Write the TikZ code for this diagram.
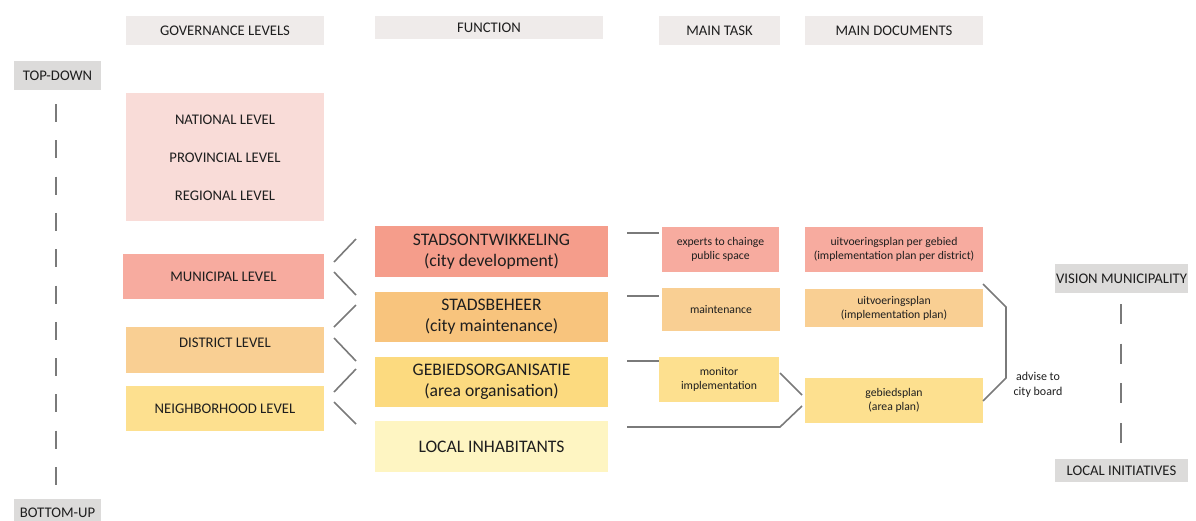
\documentclass[tikz,border=0pt]{standalone}
\usepackage{fontspec}
\setmainfont{Carlito}
\usetikzlibrary{calc}

\definecolor{ink}{HTML}{1E1E1E}
\definecolor{wire}{HTML}{7A7A7A}
\definecolor{hdrbg}{HTML}{EFEBEA}
\definecolor{sidebg}{HTML}{DCDBDA}
\definecolor{upperbg}{HTML}{F9DCD8}
\definecolor{munbg}{HTML}{F7AB9F}
\definecolor{devbg}{HTML}{F59D8B}
\definecolor{distbg}{HTML}{F9CF93}
\definecolor{maintbg}{HTML}{F8C47D}
\definecolor{neighbg}{HTML}{FDE08F}
\definecolor{areabg}{HTML}{FCDA7F}
\definecolor{localbg}{HTML}{FEF5C2}

\begin{document}
\begin{tikzpicture}[x=1pt,y=-1pt,
  every node/.style={text=ink},
  sz/.style 2 args={minimum width=#1pt, minimum height=#2pt},
  box/.style={inner sep=0pt, outer sep=0pt, anchor=north west, align=center},
  hdr/.style={box, fill=hdrbg, font=\fontsize{14.7}{17}\selectfont},
  side/.style={box, fill=sidebg, font=\fontsize{14.7}{17}\selectfont},
  lvl/.style={box, font=\fontsize{14.7}{17}\selectfont},
  lbl/.style={inner sep=0pt, font=\fontsize{14.7}{17}\selectfont},
  func/.style={box, font=\fontsize{17.6}{21}\selectfont},
  small/.style={box, font=\fontsize{11.7}{14}\selectfont},
  conn/.style={draw=wire, line width=1.6pt},
  dashline/.style={draw=wire, line width=1.6pt, dash pattern=on 18pt off 18.3pt}
]
\useasboundingbox (0,0) rectangle (1196,520);

% column headers
\node[hdr, sz={198}{29}] (hgov) at (126,16) {GOVERNANCE LEVELS};
\node[hdr, sz={228}{23}] (hfun) at (375,16) {FUNCTION};
\node[hdr, sz={121}{29}] (htask) at (659,16) {MAIN TASK};
\node[hdr, sz={178}{29}] (hdoc) at (805,16) {MAIN DOCUMENTS};

% vertical axis on the left
\node[side, sz={87}{29}] (top) at (14,61) {TOP-DOWN};
\node[side, sz={87}{36}] (bottom) at (14,499) {};
\node[inner sep=0pt, anchor=base, font=\fontsize{14.7}{17}\selectfont] (bottomt) at (57.5,517.5) {BOTTOM-UP};
\draw[dashline] ($(top.south)+(-1.5,14)$) -- ($(bottom.north)+(-1.5,-11)$);

% governance levels
\node[lvl, fill=upperbg, sz={198}{128}] (upper) at (126,93) {};
\node[lbl] (nat) at (225,120) {NATIONAL LEVEL};
\node[lbl] (prov) at (225,158) {PROVINCIAL LEVEL};
\node[lbl] (reg) at (225,196) {REGIONAL LEVEL};
\node[lvl, fill=munbg, sz={201}{45}] (mun) at (123,254) {MUNICIPAL LEVEL};
\node[lvl, fill=distbg, sz={198}{46}] (dist) at (126,327) {};
\node[lbl] (distt) at (225,343) {DISTRICT LEVEL};
\node[lvl, fill=neighbg, sz={198}{45}] (neigh) at (126,386) {NEIGHBORHOOD LEVEL};

% functions
\node[func, fill=devbg, sz={233}{51}] (dev) at (375,226) {STADSONTWIKKELING\\(city development)};
\node[func, fill=maintbg, sz={233}{50}] (beh) at (375,292) {STADSBEHEER\\(city maintenance)};
\node[func, fill=areabg, sz={233}{50}] (org) at (375,357) {GEBIEDSORGANISATIE\\(area organisation)};
\node[func, fill=localbg, sz={233}{51}] (loc) at (375,421) {LOCAL INHABITANTS};

% links between levels and functions
\draw[conn] ($(mun.east)+(10,-14.5)$) -- ($(dev.west)+(-19,-12.5)$);
\draw[conn] ($(mun.east)+(10,-4.5)$) -- ($(beh.west)+(-19,-22)$);
\draw[conn] ($(dist.east)+(10,-23)$) -- ($(beh.west)+(-19,-12)$);
\draw[conn] ($(dist.east)+(10,-12)$) -- ($(org.west)+(-19,-21)$);
\draw[conn] ($(neigh.east)+(10,-16.5)$) -- ($(org.west)+(-19,-13)$);
\draw[conn] ($(neigh.east)+(10,-6.5)$) -- ($(loc.west)+(-19,-22.5)$);

% main tasks
\node[small, fill=munbg, sz={117}{45}] (exp) at (662,227) {experts to chainge\\public space};
\node[small, fill=distbg, sz={118}{43}] (mnt) at (662,288) {maintenance};
\node[small, fill=neighbg, sz={120}{45}] (mon) at (659,357) {monitor\\implementation};

% main documents
\node[small, fill=munbg, sz={178}{45}] (dper) at (805,227) {uitvoeringsplan per gebied\\(implementation plan per district)};
\node[small, fill=distbg, sz={178}{38}] (dimp) at (805,289) {uitvoeringsplan\\(implementation plan)};
\node[small, fill=neighbg, sz={178}{45}] (darea) at (805,378) {gebiedsplan\\(area plan)};

% function to task links
\draw[conn] ($(dev.east)+(19,-18.5)$) -- ($(exp.west)+(-3,-16.5)$);
\draw[conn] ($(beh.east)+(19,-21)$) -- ($(mnt.west)+(-3,-13.5)$);
\draw[conn] ($(org.east)+(19,-21)$) -- ($(mon.west)+(0,-18.5)$);
\draw[conn] ($(loc.east)+(19,-19.5)$) -- ($(mon.east |- loc.east)+(1,-19.5)$) -- ($(darea.west)+(-3,5.5)$);
\draw[conn] ($(mon.east)+(1,-6.5)$) -- ($(darea.west)+(-3,-5.5)$);

% bracket: documents advise the city board
\coordinate (brtop) at (1006,307);
\coordinate (brbot) at (1006,378);
\draw[conn] ($(dimp.north east)+(0,-5)$) -- (brtop) -- (brbot) -- ($(darea.east)+(0,0.5)$);
\node[inner sep=0pt, align=center, font=\fontsize{12}{15}\selectfont] (adv) at (1038,385) {advise to\\city board};

% vertical axis on the right
\node[side, sz={133}{29}] (vis) at (1055,264) {VISION MUNICIPALITY};
\node[side, sz={133}{23}] (ini) at (1055,459) {LOCAL INITIATIVES};
\draw[draw=wire, line width=1.6pt, dash pattern=on 20pt off 19.7pt] ($(vis.south)+(-0.5,11)$) -- ($(ini.north)+(-0.5,-16)$);
\end{tikzpicture}
\end{document}
